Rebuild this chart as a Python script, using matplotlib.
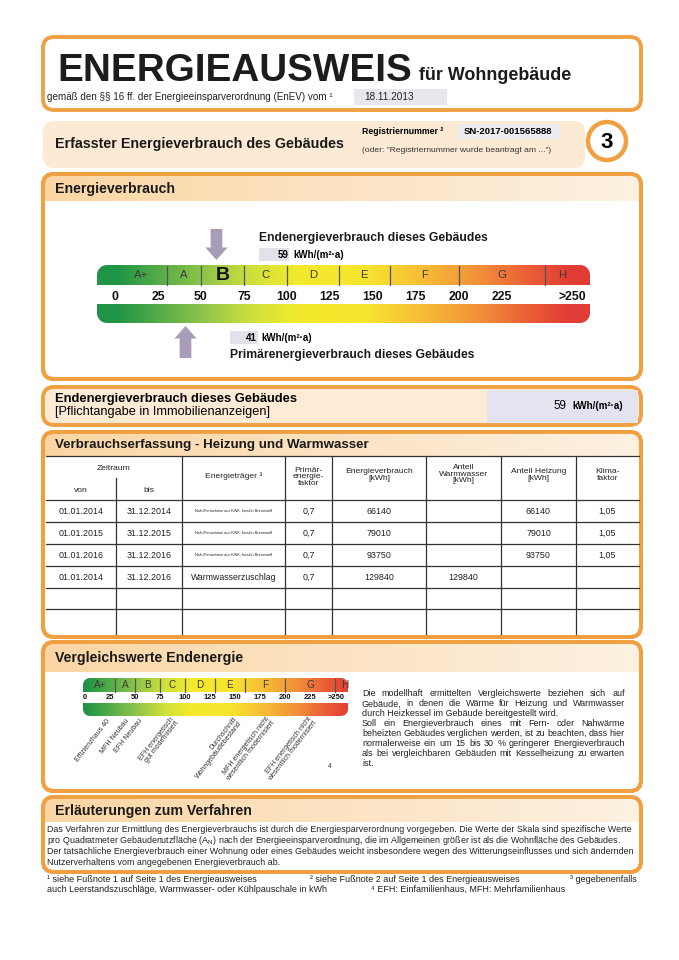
import numpy as np
import matplotlib
matplotlib.use("Agg")
import matplotlib.pyplot as plt
from matplotlib.patches import FancyBboxPatch, Rectangle, Circle, Polygon
from matplotlib.colors import LinearSegmentedColormap

plt.rcParams['font.family'] = ['Liberation Sans', 'DejaVu Sans']

# ---- data ----
class_labels = ['A+', 'A', 'B', 'C', 'D', 'E', 'F', 'G', 'H']
class_bounds = [0, 30, 50, 75, 100, 130, 160, 200, 250, 270]
scale_ticks = [0, 25, 50, 75, 100, 125, 150, 175, 200, 225]
end_energy = 59        # kWh/(m²·a)
primary_energy = 41    # kWh/(m²·a)

cmp_labels = ['Effizienzhaus 40', 'MFH Neubau', 'EFH Neubau',
              'EFH energetisch\ngut modernisiert',
              'Durchschnitt\nWohngebäudebestand',
              'MFH energetisch nicht\nwesentlich modernisiert',
              'EFH energetisch nicht\nwesentlich modernisiert']
cmp_values = [24, 43, 56, 90, 153, 186, 228]

von = ['01.01.2014', '01.01.2015', '01.01.2016', '01.01.2014']
bis = ['31.12.2014', '31.12.2015', '31.12.2016', '31.12.2016']
traeger = ['Nah-/Fernwärme aus KWK, fossiler Brennstoff'] * 3 + ['Warmwasserzuschlag']
primaer_faktor = ['0,7', '0,7', '0,7', '0,7']
verbrauch = [66140, 79010, 93750, 129840]
anteil_ww = [None, None, None, 129840]
anteil_hz = [66140, 79010, 93750, None]
klimafaktor = ['1,05', '1,05', '1,05', '']

ORANGE = '#f0a040'
ARROW = '#a99cb7'
energy_cmap = LinearSegmentedColormap.from_list('enev', [
    (0.0, '#1f9446'), (0.19, '#8cc44a'), (0.30, '#cfe03c'), (0.40, '#f3ea2c'),
    (0.55, '#f6e52f'), (0.68, '#f7bb36'), (0.80, '#f2903a'), (0.92, '#ea5a35'),
    (1.0, '#e23c36')])

fig = plt.figure(figsize=(6.79, 9.6), dpi=100)
ax = fig.add_axes([0, 0, 1, 1])
ax.set_xlim(0, 679)
ax.set_ylim(960, 0)
ax.axis('off')

header_grad = LinearSegmentedColormap.from_list('hdr', ['#fbd6a4', '#fdf1e2'])


def section(x0, y0, x1, y1, title=None, band=26, border=True, fill='white', tsize=10.2):
    box = FancyBboxPatch((x0, y0), x1 - x0, y1 - y0,
                         boxstyle='round,pad=0,rounding_size=11',
                         fc=fill, ec=ORANGE if border else 'none', lw=2.8, zorder=1)
    ax.add_patch(box)
    if band:
        im = ax.imshow(np.linspace(0, 1, 200)[None, :], cmap=header_grad,
                       extent=(x0, x1, y0 + band, y0), aspect='auto', zorder=1.5)
        im.set_clip_path(box)
        ax.add_patch(FancyBboxPatch((x0, y0), x1 - x0, y1 - y0,
                                    boxstyle='round,pad=0,rounding_size=11',
                                    fc='none', ec=ORANGE if border else 'none',
                                    lw=2.8, zorder=2))
    if title:
        ax.text(x0 + 12, y0 + band / 2 + 1, title, fontsize=tsize, fontweight='bold',
                va='center', color='#1a1a1a', zorder=3)
    return box


def bar_poly(axs, x0, x1, y0, y1, rx, ry, round_top):
    t = np.linspace(0, np.pi / 2, 14)
    if round_top:
        pts = [(x0, y1)]
        pts += list(zip(x0 + rx - rx * np.cos(t), y0 + ry - ry * np.sin(t)))
        pts += list(zip(x1 - rx + rx * np.sin(t), y0 + ry - ry * np.cos(t)))
        pts += [(x1, y1)]
    else:
        pts = [(x0, y0)]
        pts += list(zip(x0 + rx - rx * np.cos(t), y1 - ry + ry * np.sin(t)))
        pts += list(zip(x1 - rx + rx * np.sin(t), y1 - ry + ry * np.cos(t)))
        pts += [(x1, y0)]
    p = Polygon(pts, closed=True, fc='none', ec='none')
    axs.add_patch(p)
    return p


def energy_scale(rect, v0, v1, top, bottom, label_y, gt_pos, tick_fs, letter_fs, big_fs,
                 highlight=None, radius=9):
    x0, y0, x1, y1 = rect
    axs = fig.add_axes([x0 / 679, 1 - y1 / 960, (x1 - x0) / 679, (y1 - y0) / 960])
    axs.set_xlim(v0, v1)
    axs.set_ylim(y1, y0)
    axs.axis('off')
    axs.patch.set_alpha(0)
    px_per_unit = (x1 - x0) / (v1 - v0)
    vals = np.linspace(v0, v1, 600)[None, :]
    for (ya, yb), rt in ((top, True), (bottom, False)):
        poly = bar_poly(axs, v0, v1, ya, yb, radius / px_per_unit, radius, rt)
        im = axs.imshow(vals, cmap=energy_cmap, vmin=0, vmax=265,
                        extent=(v0, v1, yb, ya), aspect='auto')
        im.set_clip_path(poly)
    for b in class_bounds[1:-1]:
        axs.plot([b, b], [top[0] + 1, top[1]], color='#555555', lw=0.9)
    for lab, a, b in zip(class_labels, class_bounds[:-1], class_bounds[1:]):
        is_hl = highlight is not None and a <= highlight < b
        axs.text((a + b) / 2, (top[0] + top[1]) / 2 + 0.5, lab,
                 fontsize=big_fs if is_hl else letter_fs,
                 fontweight='bold' if is_hl else 'normal',
                 color='#111111' if is_hl else '#3a3a3a', ha='center', va='center')
    for v in scale_ticks:
        axs.text(v, label_y, str(v), fontsize=tick_fs, fontweight='bold',
                 ha='center', va='center', color='#111111')
    axs.text(gt_pos, label_y, '>250', fontsize=tick_fs, fontweight='bold',
             ha='center', va='center', color='#111111')
    return axs


# ---- box 1: title ----
section(43, 37, 641, 110, band=0)
ax.text(57, 81, 'ENERGIEAUSWEIS', fontsize=27.8, fontweight='bold', color='#1c1c1c',
        va='baseline')
ax.text(419, 80, 'für Wohngebäude', fontsize=12.9, fontweight='bold', color='#1c1c1c',
        va='baseline')
ax.text(47, 97, 'gemäß den §§ 16 ff. der Energieeinsparverordnung (EnEV) vom ¹',
        fontsize=7.15, va='center', color='#222222')
ax.add_patch(Rectangle((354, 89), 93, 16, fc='#e7e8ee', ec='none'))
ax.text(364, 97, '18.11.2013', fontsize=7.2, va='center', color='#222222')

# ---- box 2 ----
section(43, 121, 585, 168, band=0, border=False, fill='#fcead4')
ax.text(55, 144, 'Erfasster Energieverbrauch des Gebäudes', fontsize=10.3,
        fontweight='bold', va='center', color='#1a1a1a')
ax.text(362, 131, 'Registriernummer ²', fontsize=6.3, fontweight='bold', va='center')
ax.add_patch(Rectangle((458, 123.5), 102, 15, fc='#ececf1', ec='none'))
ax.text(464, 131, 'SN-2017-001565888', fontsize=6.8, fontweight='bold', va='center')
ax.text(362, 151, '(oder: "Registriernummer wurde beantragt am ...")', fontsize=6.1,
        va='center', color='#333333')
ax.add_patch(Circle((607, 141), 19, fc='white', ec=ORANGE, lw=3.2))
ax.text(607, 142, '3', fontsize=16, fontweight='bold', ha='center', va='center')

# ---- box 3: energy scale ----
section(43, 174, 641, 379, 'Energieverbrauch', band=27)
sc = energy_scale((97, 222, 590, 362), -10.47, 276.2, (265, 285), (304, 323), 296.5, 266,
                  tick_fs=8.8, letter_fs=8.2, big_fs=14, highlight=end_energy, radius=10)
sc.annotate('', xy=(end_energy, 260), xytext=(end_energy, 229),
            arrowprops=dict(arrowstyle='simple,head_width=0.8,head_length=0.45,tail_width=0.42',
                            fc=ARROW, ec='none', mutation_scale=20, shrinkA=0, shrinkB=0))
sc.annotate('', xy=(primary_energy, 326), xytext=(primary_energy, 358),
            arrowprops=dict(arrowstyle='simple,head_width=0.8,head_length=0.45,tail_width=0.42',
                            fc=ARROW, ec='none', mutation_scale=20, shrinkA=0, shrinkB=0))
ax.text(259, 238, 'Endenergieverbrauch dieses Gebäudes', fontsize=8.7, fontweight='bold',
        va='center', color='#1a1a1a')
ax.add_patch(Rectangle((259, 248), 30, 13, fc='#e2e3ea', ec='none'))
ax.text(289, 255, f'{end_energy}', fontsize=7, fontweight='bold', va='center', ha='right')
ax.text(293, 255, 'kWh/(m²·a)', fontsize=7, fontweight='bold', va='center')
ax.add_patch(Rectangle((230, 331), 28, 13, fc='#e2e3ea', ec='none'))
ax.text(257, 338, f'{primary_energy}', fontsize=7, fontweight='bold', va='center', ha='right')
ax.text(261, 338, 'kWh/(m²·a)', fontsize=7, fontweight='bold', va='center')
ax.text(230, 355, 'Primärenergieverbrauch dieses Gebäudes', fontsize=8.7, fontweight='bold',
        va='center', color='#1a1a1a')

# ---- box 4 ----
section(43, 387, 641, 425, band=0, fill='#fdebd5')
ax.add_patch(Rectangle((487, 390), 151, 33, fc='#e3e4ef', ec='none', zorder=2))
ax.text(55, 399, 'Endenergieverbrauch dieses Gebäudes', fontsize=9.3, fontweight='bold',
        va='center', zorder=3)
ax.text(55, 412, '[Pflichtangabe in Immobilienanzeigen]', fontsize=9.2, va='center', zorder=3)
ax.text(566, 406, f'{end_energy}', fontsize=8.4, va='center', ha='right', zorder=3)
ax.text(572, 406, 'kWh/(m²·a)', fontsize=7, fontweight='bold', va='center', zorder=3)

# ---- box 5: table ----
section(43, 432, 641, 637, 'Verbrauchserfassung - Heizung und Warmwasser', band=24, tsize=9.6)
col_edges = [46, 116, 182, 285, 332, 426, 501, 576, 639]
row_edges = [456, 500, 522, 544, 566, 588, 609, 634]
lc = '#333333'
for y in row_edges[:-1]:
    ax.plot([col_edges[0], col_edges[-1]], [y, y], color=lc, lw=0.9, zorder=3)
ax.plot([116, 116], [478, 634], color=lc, lw=0.9, zorder=3)
for x in col_edges[2:-1]:
    ax.plot([x, x], [456, 634], color=lc, lw=0.9, zorder=3)
cx = [(a + b) / 2 for a, b in zip(col_edges[:-1], col_edges[1:])]
hk = dict(fontsize=6.1, ha='center', va='center', color='#222222', zorder=4,
          linespacing=0.92)
ax.text((col_edges[0] + col_edges[2]) / 2, 468, 'Zeitraum', **hk)
ax.text(cx[0], 490, 'von', **hk)
ax.text(cx[1], 490, 'bis', **hk)
ax.text(cx[2], 476, 'Energieträger ³', **hk)
ax.text(cx[3], 477, 'Primär-\nenergie-\nfaktor', **hk)
ax.text(cx[4], 475, 'Energieverbrauch\n[kWh]', **hk)
ax.text(cx[5], 474, 'Anteil\nWarmwasser\n[kWh]', **hk)
ax.text(cx[6], 475, 'Anteil Heizung\n[kWh]', **hk)
ax.text(cx[7], 475, 'Klima-\nfaktor', **hk)
ck = dict(fontsize=6.4, ha='center', va='center', color='#222222', zorder=4)
for i in range(len(von)):
    yc = (row_edges[i + 1] + row_edges[i + 2]) / 2
    ax.text(cx[0], yc, von[i], **ck)
    ax.text(cx[1], yc, bis[i], **ck)
    small = len(traeger[i]) > 25
    ax.text(cx[2], yc, traeger[i], fontsize=2.7 if small else 6.3, ha='center',
            va='center', color='#222222', zorder=4)
    ax.text(cx[3], yc, primaer_faktor[i], **ck)
    ax.text(cx[4], yc, str(verbrauch[i]), **ck)
    if anteil_ww[i] is not None:
        ax.text(cx[5], yc, str(anteil_ww[i]), **ck)
    if anteil_hz[i] is not None:
        ax.text(cx[6], yc, str(anteil_hz[i]), **ck)
    ax.text(cx[7], yc, klimafaktor[i], **ck)

# ---- box 6: comparison ----
section(43, 642, 641, 791, 'Vergleichswerte Endenergie', band=30)
cs = energy_scale((83, 674, 348, 772), -2, 263, (678, 692), (703, 716), 697.5, 251,
                  tick_fs=5.4, letter_fs=7.2, big_fs=7.2, highlight=None, radius=7)
for lab, v in zip(cmp_labels, cmp_values):
    cs.text(v, 720, lab, fontsize=5.0, rotation=52, rotation_mode='anchor',
            ha='right', va='center', color='#333333', linespacing=0.95)
ax.text(330, 766, '4', fontsize=4.8, ha='center', va='center', color='#333333')

para = [
    ('Die modellhaft ermittelten Vergleichswerte beziehen sich auf', False),
    ('Gebäude, in denen die Wärme für Heizung und Warmwasser', False),
    ('durch Heizkessel im Gebäude bereitgestellt wird.', True),
    ('Soll ein Energieverbrauch eines mit Fern- oder Nahwärme', False),
    ('beheizten Gebäudes verglichen werden, ist zu beachten, dass hier', False),
    ('normalerweise ein um 15 bis 30 % geringerer Energieverbrauch', False),
    ('als bei vergleichbaren Gebäuden mit Kesselheizung zu erwarten', False),
    ('ist.', True),
]
renderer = fig.canvas.get_renderer()
pk = dict(fontsize=6.5, va='center', color='#222222')
for i, (line, last) in enumerate(para):
    y = 694 + i * 9.9
    if last:
        ax.text(362, y, line, **pk)
        continue
    words = line.split()
    widths = []
    for w in words:
        t = ax.text(0, 0, w, **pk)
        widths.append(t.get_window_extent(renderer).width)
        t.remove()
    gap = (625 - 362 - sum(widths)) / (len(words) - 1)
    x = 362
    for w, wd in zip(words, widths):
        ax.text(x, y, w, **pk)
        x += wd + gap

# ---- box 7 ----
section(43, 797, 641, 872, 'Erläuterungen zum Verfahren', band=25)
expl = [
    'Das Verfahren zur Ermittlung des Energieverbrauchs ist durch die Energiesparverordnung vorgegeben. Die Werte der Skala sind spezifische Werte',
    'pro Quadratmeter Gebäudenutzfläche (A$_\\mathregular{N}$) nach der Energieeinsparverordnung, die im Allgemeinen größer ist als die Wohnfläche des Gebäudes.',
    'Der tatsächliche Energieverbrauch einer Wohnung oder eines Gebäudes weicht insbesondere wegen des Witterungseinflusses und sich ändernden',
    'Nutzerverhaltens vom angegebenen Energieverbrauch ab.',
]
for i, line in enumerate(expl):
    ax.text(47, 830 + i * 10.8, line, fontsize=6.4, va='center', color='#222222', zorder=3)

fk = dict(fontsize=6.5, va='center', color='#222222')
ax.text(47, 880, '¹ siehe Fußnote 1 auf Seite 1 des Energieausweises', **fk)
ax.text(310, 880, '² siehe Fußnote 2 auf Seite 1 des Energieausweises', **fk)
ax.text(570, 880, '³ gegebenenfalls', **fk)
ax.text(47, 889, 'auch Leerstandszuschläge, Warmwasser- oder Kühlpauschale in kWh', **fk)
ax.text(371, 889, '⁴ EFH: Einfamilienhaus, MFH: Mehrfamilienhaus', **fk)

fig.savefig('out.png', dpi=100)
